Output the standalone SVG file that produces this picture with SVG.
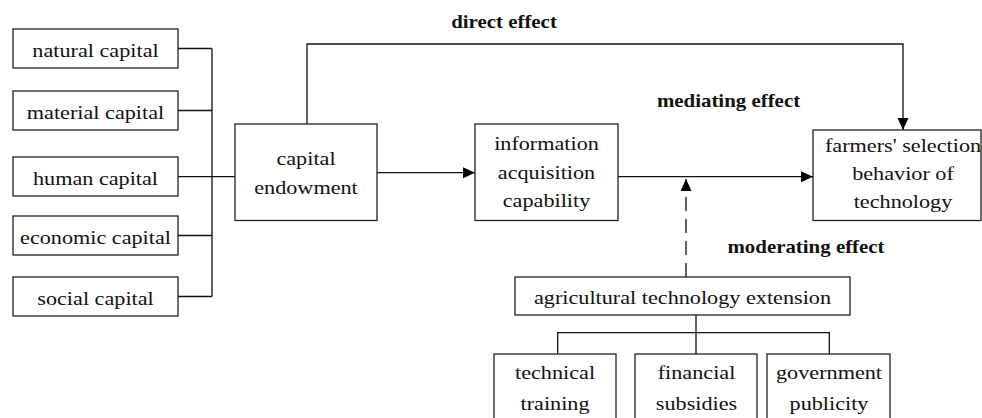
<svg xmlns="http://www.w3.org/2000/svg" width="982" height="418" viewBox="0 0 982 418">
<defs>
<style>
.box{fill:#fff;stroke:#222;stroke-width:1.3}
.ln{fill:none;stroke:#111;stroke-width:1.3}
.t{font-family:"Liberation Serif","Times New Roman",serif;font-size:18.5px;fill:#111;text-anchor:middle}
.b{font-family:"Liberation Serif","Times New Roman",serif;font-size:18.5px;font-weight:bold;fill:#111;text-anchor:middle}
</style>
<marker id="arr" markerUnits="userSpaceOnUse" markerWidth="13" markerHeight="12" refX="12" refY="5.5" orient="auto">
<path d="M0,0 L12,5.5 L0,11 Z" fill="#000"/>
</marker>
</defs>
<rect width="982" height="418" fill="#fff"/>

<g id="connectors">
<path class="ln" d="M178,48.5 H212 M178,110.5 H212 M178,176.7 H235 M178,235.5 H212 M178,296.5 H212 M212,48.5 V296.5"/>
<path class="ln" d="M307,124 V44 H903 V130" marker-end="url(#arr)"/>
<path class="ln" d="M377,172.7 H475" marker-end="url(#arr)"/>
<path class="ln" d="M618,176.7 H813" marker-end="url(#arr)"/>
<path class="ln" d="M686,277 V179" stroke-dasharray="14 8" marker-end="url(#arr)"/>
<path class="ln" d="M696,315 V332.7 M557.7,354 V332.7 H829.3 V354 M696,332.7 V354"/>
</g>

<g id="label-direct"><text class="b" transform="translate(504,28) scale(1.13,1)">direct effect</text></g>
<g id="label-mediating"><text class="b" transform="translate(728.5,107) scale(1.13,1)">mediating effect</text></g>
<g id="label-moderating"><text class="b" transform="translate(806,253) scale(1.13,1)">moderating effect</text></g>

<g id="natural-capital"><rect class="box" x="13" y="29" width="165" height="39"/><text class="t" transform="translate(95.5,56.5) scale(1.2,1)">natural capital</text></g>
<g id="material-capital"><rect class="box" x="13" y="91" width="165" height="39"/><text class="t" transform="translate(95.5,118.5) scale(1.2,1)">material capital</text></g>
<g id="human-capital"><rect class="box" x="13" y="157" width="165" height="39"/><text class="t" transform="translate(95.5,184.5) scale(1.2,1)">human capital</text></g>
<g id="economic-capital"><rect class="box" x="13" y="216" width="165" height="39"/><text class="t" transform="translate(95.5,243.5) scale(1.2,1)">economic capital</text></g>
<g id="social-capital"><rect class="box" x="13" y="277" width="165" height="39"/><text class="t" transform="translate(95.5,304.5) scale(1.2,1)">social capital</text></g>

<g id="capital-endowment"><rect class="box" x="235" y="124" width="142" height="96.5"/>
<text class="t" transform="translate(306,165) scale(1.2,1)">capital</text>
<text class="t" transform="translate(306,194) scale(1.2,1)">endowment</text></g>

<g id="information-acquisition"><rect class="box" x="475" y="124" width="143" height="96.5"/>
<text class="t" transform="translate(546.5,150) scale(1.2,1)">information</text>
<text class="t" transform="translate(546.5,178.5) scale(1.2,1)">acquisition</text>
<text class="t" transform="translate(546.5,207) scale(1.2,1)">capability</text></g>

<g id="farmers-selection"><rect class="box" x="813" y="130" width="168" height="90.5"/>
<text class="t" transform="translate(903,152) scale(1.2,1)">farmers' selection</text>
<text class="t" transform="translate(903,180) scale(1.2,1)">behavior of</text>
<text class="t" transform="translate(903,208) scale(1.2,1)">technology</text></g>

<g id="agricultural-extension"><rect class="box" x="515" y="277" width="335" height="38"/>
<text class="t" transform="translate(682.5,304) scale(1.2,1)">agricultural technology extension</text></g>

<g id="technical-training"><rect class="box" x="494" y="354" width="122" height="80"/>
<text class="t" transform="translate(555,379.3) scale(1.2,1)">technical</text>
<text class="t" transform="translate(555,410) scale(1.2,1)">training</text></g>

<g id="financial-subsidies"><rect class="box" x="635" y="354" width="122" height="80"/>
<text class="t" transform="translate(696.5,379.3) scale(1.2,1)">financial</text>
<text class="t" transform="translate(696.5,410) scale(1.2,1)">subsidies</text></g>

<g id="government-publicity"><rect class="box" x="767" y="354" width="123" height="80"/>
<text class="t" transform="translate(829,379.3) scale(1.2,1)">government</text>
<text class="t" transform="translate(829,410) scale(1.2,1)">publicity</text></g>
</svg>
